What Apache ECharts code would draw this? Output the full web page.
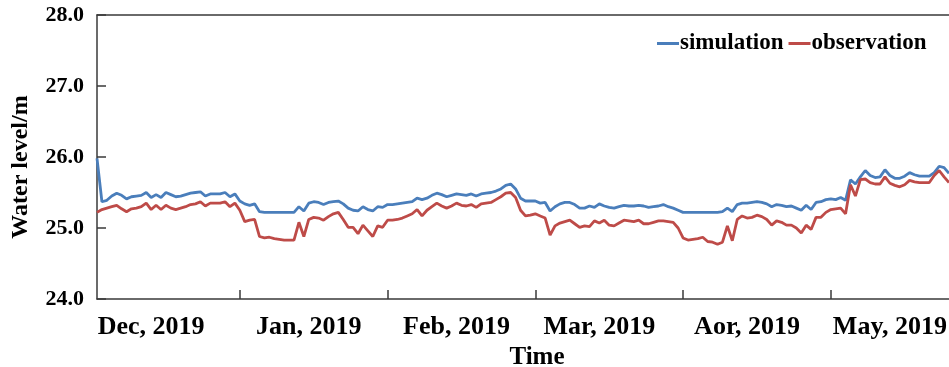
<!DOCTYPE html>
<html>
<head>
<meta charset="utf-8">
<script src="https://cdn.jsdelivr.net/npm/echarts@6/dist/echarts.min.js"></script>
<style>
  html, body { margin: 0; padding: 0; background: #fff; }
  #chart { width: 949px; height: 367px; }
</style>
</head>
<body>
<div id="chart"></div>
<script>
// Daily water level (m), from early December to late May
const simulation = [
  25.98, 25.37, 25.39, 25.45, 25.49, 25.46, 25.41, 25.44, 25.45, 25.46,
  25.50, 25.43, 25.47, 25.43, 25.50, 25.47, 25.44, 25.45, 25.47, 25.49,
  25.50, 25.51, 25.45, 25.48, 25.48, 25.48, 25.50, 25.44, 25.48, 25.38,
  25.34, 25.32, 25.34, 25.23, 25.22, 25.22, 25.22, 25.22, 25.22, 25.22,
  25.22, 25.30, 25.24, 25.35, 25.37, 25.36, 25.33, 25.36, 25.37, 25.38,
  25.34, 25.28, 25.25, 25.24, 25.30, 25.26, 25.24, 25.30, 25.29, 25.33,
  25.33, 25.34, 25.35, 25.36, 25.37, 25.42, 25.40, 25.42, 25.46, 25.49,
  25.47, 25.44, 25.46, 25.48, 25.47, 25.46, 25.48, 25.45, 25.48, 25.49,
  25.50, 25.52, 25.55, 25.60, 25.62, 25.55, 25.42, 25.38, 25.38, 25.38,
  25.35, 25.36, 25.24, 25.30, 25.34, 25.36, 25.36, 25.33, 25.28, 25.28,
  25.31, 25.29, 25.34, 25.31, 25.29, 25.28, 25.30, 25.32, 25.31, 25.31,
  25.32, 25.31, 25.29, 25.30, 25.31, 25.33, 25.30, 25.28, 25.25, 25.22,
  25.22, 25.22, 25.22, 25.22, 25.22, 25.22, 25.22, 25.23, 25.28, 25.23,
  25.33, 25.35, 25.35, 25.36, 25.37, 25.36, 25.34, 25.30, 25.33, 25.32,
  25.30, 25.31, 25.28, 25.25, 25.32, 25.26, 25.36, 25.37, 25.40, 25.41,
  25.40, 25.43, 25.39, 25.68, 25.62, 25.72, 25.81, 25.74, 25.71, 25.72,
  25.82, 25.74, 25.70, 25.70, 25.73, 25.78, 25.75, 25.73, 25.73, 25.73,
  25.78, 25.87, 25.85, 25.77
];

const observation = [
  25.22, 25.26, 25.28, 25.30, 25.32, 25.27, 25.23, 25.27, 25.28, 25.30,
  25.35, 25.26, 25.32, 25.26, 25.32, 25.28, 25.26, 25.28, 25.30, 25.33,
  25.34, 25.37, 25.31, 25.35, 25.35, 25.35, 25.37, 25.30, 25.35, 25.25,
  25.09, 25.11, 25.12, 24.88, 24.86, 24.87, 24.85, 24.84, 24.83, 24.83,
  24.83, 25.08, 24.88, 25.12, 25.15, 25.14, 25.11, 25.16, 25.20, 25.22,
  25.12, 25.01, 25.01, 24.92, 25.04, 24.96, 24.88, 25.03, 25.01, 25.11,
  25.11, 25.12, 25.14, 25.17, 25.20, 25.26, 25.17, 25.25, 25.30, 25.35,
  25.31, 25.28, 25.31, 25.35, 25.32, 25.31, 25.33, 25.29, 25.34, 25.35,
  25.36, 25.40, 25.44, 25.49, 25.50, 25.43, 25.25, 25.17, 25.18, 25.20,
  25.17, 25.14, 24.90, 25.03, 25.07, 25.09, 25.11, 25.06, 25.01, 25.03,
  25.02, 25.10, 25.07, 25.11, 25.04, 25.03, 25.07, 25.11, 25.10, 25.09,
  25.11, 25.06, 25.06, 25.08, 25.10, 25.10, 25.09, 25.08, 25.00, 24.86,
  24.83, 24.84, 24.85, 24.87, 24.81, 24.80, 24.77, 24.80, 25.03, 24.82,
  25.12, 25.17, 25.14, 25.15, 25.18, 25.16, 25.12, 25.04, 25.10, 25.08,
  25.04, 25.04, 25.00, 24.93, 25.04, 24.98, 25.15, 25.15, 25.22, 25.26,
  25.27, 25.28, 25.20, 25.61, 25.45, 25.68, 25.69, 25.64, 25.62, 25.62,
  25.72, 25.63, 25.60, 25.58, 25.61, 25.67, 25.65, 25.64, 25.64, 25.64,
  25.74, 25.81, 25.72, 25.64
];

// Month labels and the day on which each one is centred
const monthLabels = ['Dec, 2019', 'Jan, 2019', 'Feb, 2019', 'Mar, 2019', 'Aor, 2019', 'May, 2019'];
const monthLabelDays = [11, 43, 73, 102, 132, 161];
// Days that mark the start of a new month
const monthBoundaryDays = [29, 59, 89, 119, 149];

const yTicks = [24, 25, 26, 27, 28];

const days = simulation.map((_, i) => String(i));

const FONT = '"Liberation Serif", "Times New Roman", serif';
const AXIS_COLOR = '#3a3a3a';
const SIM_COLOR = '#4a7ebb';
const OBS_COLOR = '#be4b48';

const chart = echarts.init(document.getElementById('chart'), null, { renderer: 'canvas' });

chart.setOption({
  animation: false,
  backgroundColor: '#ffffff',
  grid: { left: 97, right: 0, top: 15, bottom: 68, containLabel: false, outerBoundsMode: 'none' },
  legend: {
    left: 652,
    top: 27,
    icon: 'rect',
    itemWidth: 22,
    itemHeight: 3,
    itemGap: 5,
    textStyle: { fontFamily: FONT, fontWeight: 'bold', fontSize: 23, color: '#000', padding: [0, 0, 0, -4] },
    data: [
      { name: 'simulation', itemStyle: { color: SIM_COLOR } },
      { name: 'observation', itemStyle: { color: OBS_COLOR } }
    ]
  },
  xAxis: [
    {
      type: 'category',
      data: days,
      boundaryGap: false,
      axisLine: { show: true, lineStyle: { color: AXIS_COLOR, width: 1.5 } },
      axisTick: {
        show: true,
        inside: true,
        length: 9,
        interval: (idx) => monthBoundaryDays.includes(idx),
        lineStyle: { color: AXIS_COLOR, width: 1.5 }
      },
      axisLabel: {
        show: true,
        interval: (idx) => monthLabelDays.includes(idx),
        formatter: (val) => {
          const k = monthLabelDays.indexOf(Number(val));
          return k >= 0 ? monthLabels[k] : '';
        },
        margin: 15,
        fontFamily: FONT,
        fontWeight: 'bold',
        fontSize: 26,
        color: '#000'
      },
      splitLine: { show: false },
      name: 'Time',
      nameLocation: 'middle',
      nameGap: 43,
      nameTextStyle: { fontFamily: FONT, fontWeight: 'bold', fontSize: 25, color: '#000', padding: [0, 0, 0, 28] }
    },
    {
      // frame line along the top edge of the plot
      type: 'category',
      data: days,
      boundaryGap: false,
      position: 'top',
      axisLine: { show: true, lineStyle: { color: AXIS_COLOR, width: 1.5 } },
      axisTick: { show: false },
      axisLabel: { show: false },
      splitLine: { show: false }
    }
  ],
  yAxis: {
    type: 'value',
    min: yTicks[0],
    max: yTicks[yTicks.length - 1],
    interval: 1,
    axisLine: { show: true, lineStyle: { color: AXIS_COLOR, width: 1.5 } },
    axisTick: { show: true, inside: true, length: 9, lineStyle: { color: AXIS_COLOR, width: 1.5 } },
    axisLabel: {
      formatter: (v) => v.toFixed(1),
      margin: 13,
      fontFamily: FONT,
      fontWeight: 'bold',
      fontSize: 22,
      color: '#000'
    },
    splitLine: { show: false },
    name: 'Water level/m',
    nameLocation: 'middle',
    nameGap: 64,
    nameRotate: 90,
    nameTextStyle: { fontFamily: FONT, fontWeight: 'bold', fontSize: 24, color: '#000', padding: [0, 20, 0, 0] }
  },
  series: [
    {
      name: 'simulation',
      type: 'line',
      xAxisIndex: 0,
      data: simulation,
      symbol: 'none',
      smooth: false,
      lineStyle: { color: SIM_COLOR, width: 2.8 },
      itemStyle: { color: SIM_COLOR }
    },
    {
      name: 'observation',
      type: 'line',
      xAxisIndex: 0,
      data: observation,
      symbol: 'none',
      smooth: false,
      lineStyle: { color: OBS_COLOR, width: 2.8 },
      itemStyle: { color: OBS_COLOR }
    }
  ]
});
</script>
</body>
</html>
